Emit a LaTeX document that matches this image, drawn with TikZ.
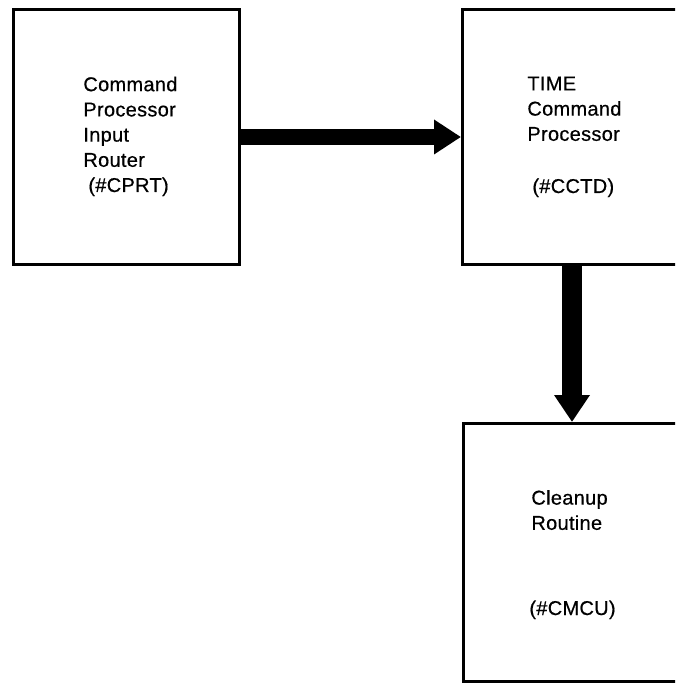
\documentclass[tikz,border=0pt]{standalone}
\usepackage{fontspec}
\setmainfont{Liberation Sans}[LetterSpace=1.5,FakeBold=0.5]
\usetikzlibrary{arrows.meta}
\begin{document}
\begin{tikzpicture}[x=0.5pt,y=-0.5pt,
  blockbox/.style={draw=black, line width=1.5pt, fill=white, anchor=north west,
    inner sep=0pt},
  % multi-line captions: the base anchor sits on the last line
  blocktext/.style={anchor=base west, align=left, inner sep=0pt,
    font=\fontsize{10pt}{12.6pt}\selectfont},
  flowH/.style={line width=8pt, -{Triangle[length=13.5pt,width=16.5pt]}},
  flowV/.style={line width=10pt, -{Triangle[length=13.5pt,width=17pt]}}]
  \useasboundingbox (0,0) rectangle (675,683);
  \fill[white] (0,0) rectangle (675,683);
  \clip (0,0) rectangle (675,683);

  % processing blocks (the two on the right run past the page edge)
  \node[blockbox, minimum width=113pt, minimum height=127.5pt] (cprt) at (12,8) {};
  \node[blockbox, minimum width=125pt, minimum height=127.5pt] (cctd) at (461,8) {};
  \node[blockbox, minimum width=125pt, minimum height=129pt] (cmcu) at (462,422) {};

  % block captions
  \node[blocktext] (cprtlbl) at (83,192)
    {Command\\Processor\\Input\\Router\\\hspace{2.5pt}(\#CPRT)};
  \node[blocktext] (cctdlbl) at (527,193)
    {TIME\\Command\\Processor\\[13.5pt]\hspace{2.5pt}(\#CCTD)};
  \node[blocktext] (cmculbl) at (529,615)
    {\hspace{1pt}Cleanup\\\hspace{1pt}Routine\\[30pt](\#CMCU)};

  % control flow
  \draw[flowH] (cprt.east) -- (cctd.west);
  \draw[flowV] ([xshift=55.5pt]cctd.south west)
    -- ([xshift=55.5pt]cctd.south west |- cmcu.north);
\end{tikzpicture}
\end{document}
